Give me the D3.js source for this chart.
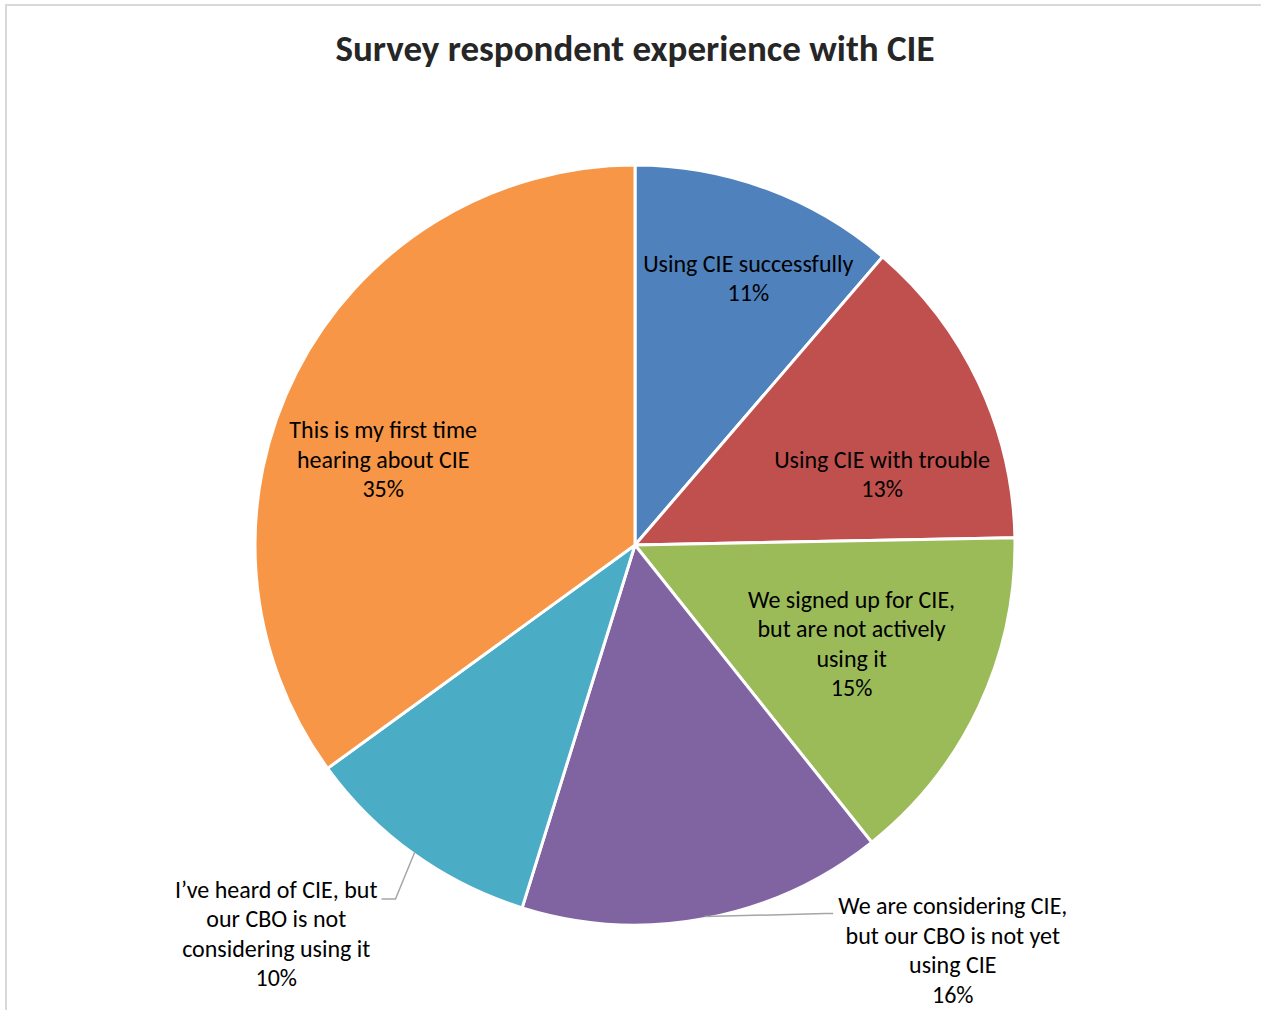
<!DOCTYPE html>
<html>
<head>
<meta charset="utf-8">
<script src="https://cdn.jsdelivr.net/npm/d3@7"></script>
<style>
  html, body { margin: 0; padding: 0; background: #fff; }
  svg { display: block; }
  text { font-family: Carlito, Calibri, Lato, sans-serif; fill: #000; }
</style>
</head>
<body>
<svg id="chart" width="1261" height="1010"></svg>
<script>
// ---- data ----
const title = "Survey respondent experience with CIE";
const categories = [
  "Using CIE successfully",
  "Using CIE with trouble",
  "We signed up for CIE, but are not actively using it",
  "We are considering CIE, but our CBO is not yet using CIE",
  "I’ve heard of CIE, but our CBO is not considering using it",
  "This is my first time hearing about CIE"
];
const values = [11.3, 13.4, 14.6, 15.5, 10.2, 35.0];
const labelLines = [
  ["Using CIE successfully"],
  ["Using CIE with trouble"],
  ["We signed up for CIE,", "but are not actively", "using it"],
  ["We are considering CIE,", "but our CBO is not yet", "using CIE"],
  ["I’ve heard of CIE, but", "our CBO is not", "considering using it"],
  ["This is my first time", "hearing about CIE"]
];
const colors = ["#4F81BD", "#C0504D", "#9BBB59", "#8064A2", "#4BACC6", "#F79646"];

// ---- layout ----
const W = 1261, H = 1010;
const cx = 635, cy = 545, R = 380;
const lineH = 29.5;
const labelDy = 2.5;
// label placement: angle (deg, clockwise from top) and radius in px, relative to pie center
const labelPlace = [
  {a: 23.0, r: 290},
  {a: 74.0, r: 257},
  {a: 114.5, r: 238},
  {a: 141.9, r: 515, leader: "left"},
  {a: 222.7, r: 529, leader: "right"},
  {a: 288.8, r: 266}
];

const svg = d3.select("#chart");

// chart frame
svg.append("rect")
  .attr("x", 6).attr("y", 5)
  .attr("width", W + 20).attr("height", H + 20)
  .attr("fill", "none").attr("stroke", "#D9D9D9").attr("stroke-width", 2);

svg.append("text")
  .attr("x", cx).attr("y", 50)
  .attr("text-anchor", "middle").attr("dominant-baseline", "middle")
  .attr("dy", "2")
  .style("font-size", "37px").style("font-weight", "bold").style("fill", "#262626")
  .text(title);

const total = d3.sum(values);
const pie = d3.pie().sort(null).value(d => d)(values);
const arc = d3.arc().innerRadius(0).outerRadius(R);

const g = svg.append("g").attr("transform", `translate(${cx},${cy})`);

g.selectAll("path.slice").data(pie).join("path")
  .attr("class", "slice")
  .attr("d", arc)
  .attr("fill", (d, i) => colors[i])
  .attr("stroke", "#fff").attr("stroke-width", 3).attr("stroke-linejoin", "round");

function polar(aDeg, r) {
  const a = aDeg * Math.PI / 180;
  return [Math.sin(a) * r, -Math.cos(a) * r];
}

const leaderG = g.append("g");

// labels
pie.forEach((d, i) => {
  const lp = labelPlace[i];
  const c = polar(lp.a, lp.r);
  c[1] += labelDy;
  const lines = labelLines[i].concat([Math.round(d.data / total * 100) + "%"]);
  const t = g.append("text")
    .attr("text-anchor", "middle")
    .style("font-size", "24px");
  const spans = [];
  lines.forEach((ln, k) => {
    spans.push(t.append("tspan")
      .attr("x", c[0])
      .attr("y", c[1] + (k - (lines.length - 1) / 2) * lineH)
      .attr("dominant-baseline", "middle")
      .text(ln));
  });
  if (lp.leader) {
    const w = spans[0].node().getComputedTextLength();
    const y0 = c[1] - (lines.length - 1) / 2 * lineH + 5;
    const mid = (d.startAngle + d.endAngle) / 2;
    let pts;
    if (lp.leader === "left") {
      const inner = [Math.sin(mid) * R * 0.995, -Math.cos(mid) * R * 0.995];
      const x0 = c[0] - w / 2 - 5;
      pts = [[x0, y0], [x0 - 8, y0], inner];
    } else {
      const inner = [Math.sin(mid) * R * 0.995, -Math.cos(mid) * R * 0.995];
      const x0 = c[0] + w / 2 + 4;
      pts = [[x0, y0 + 2], [x0 + 14, y0 + 2], inner];
    }
    leaderG.append("path")
      .attr("d", d3.line()(pts))
      .attr("fill", "none").attr("stroke", "#A6A6A6").attr("stroke-width", 1.5);
  }
});
</script>
</body>
</html>
